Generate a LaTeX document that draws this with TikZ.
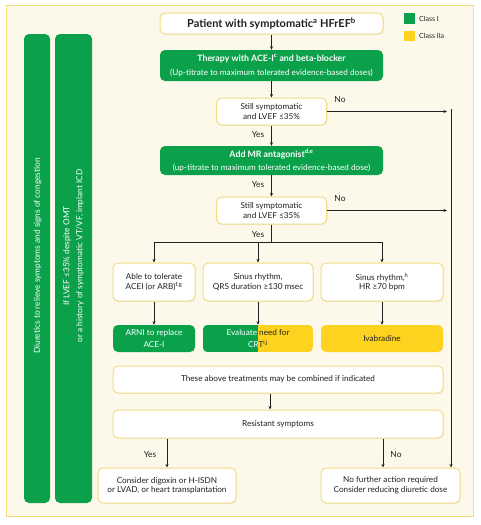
\documentclass[tikz,border=0pt]{standalone}
\usepackage{fontspec}
\setmainfont{Lato}
\usetikzlibrary{arrows.meta,shadows,calc}
\definecolor{cgreen}{HTML}{0BA14B}
\definecolor{cyellow}{HTML}{FDD31F}
\definecolor{cream}{HTML}{FCF8EA}
\definecolor{pborder}{HTML}{F2DF7C}
\definecolor{bborder}{HTML}{F2DC86}
\definecolor{ink}{HTML}{231F20}
\begin{document}
\begin{tikzpicture}[x=1pt,y=-1pt,
  txt/.style={font=\fontsize{8.2}{9.6}\selectfont},
  gtxt/.style={font=\fontsize{8.2}{11.5}\selectfont},
  box/.style={draw=bborder, line width=1pt, fill=white, rounded corners=5pt, align=center,
    inner sep=1pt, txt, text=ink,
    drop shadow={opacity=0.12,shadow xshift=0.8pt,shadow yshift=-0.8pt}},
  gbox/.style={fill=cgreen, rounded corners=5pt, align=center, inner sep=1pt, gtxt, text=white},
  ybox/.style={fill=cyellow, rounded corners=5pt, align=center, inner sep=1pt, txt, text=ink},
  bar/.style={fill=cgreen, rounded corners=5pt},
  bartxt/.style={rotate=90, text=white, align=center, font=\fontsize{8.3}{13}\selectfont, inner sep=0pt},
  arr/.style={-{Stealth[length=3.5pt,width=3pt]}, line width=0.6pt, draw=ink},
  ln/.style={line width=0.6pt, draw=ink},
  lbl/.style={font=\fontsize{8.4}{9}\selectfont, text=ink, inner sep=0pt},
  leg/.style={font=\fontsize{7}{8}\selectfont, text=ink, inner sep=0pt, anchor=west},
]
\useasboundingbox (0,0) rectangle (480,525);
\fill[white] (0,0) rectangle (480,525);
\draw[pborder, line width=0.8pt, fill=cream] (6,5) rectangle (473,516);

% side bars
\fill[bar] (24,34) rectangle (50,503);
\fill[bar] (55,34) rectangle (92,503);
\node[bartxt] (bar1txt) at (37.5,256) {Diuretics to relieve symptoms and signs of congestion};
\node[bartxt] (bar2txt) at (73.5,256) {If LVEF ≤35\% despite OMT\\or a history of symptomatic VT/VF, implant ICD};

% legend
\fill[cgreen] (404,13) rectangle (415,24);
\fill[cyellow] (404,31) rectangle (415,41);
\node[leg] (legI) at (419,18.5) {Class I};
\node[leg] (legIIa) at (419,36) {Class IIa};

% main flow
\node[box, minimum width=223pt, minimum height=21pt, font=\bfseries\fontsize{11}{12}\selectfont] (top) at (271.5,23.5)
  {Patient with symptomatic\textsuperscript{a} HFrEF\textsuperscript{b}};
\node[gbox, minimum width=223pt, minimum height=31pt] (therapy) at (271.5,65.5)
  {{\bfseries\fontsize{8.8}{10}\selectfont Therapy with ACE-I\textsuperscript{c} and beta-blocker}\\[2pt](Up-titrate to maximum tolerated evidence-based doses)};
\node[box, minimum width=110pt, minimum height=27pt] (dec1) at (271.5,111.5)
  {Still symptomatic\\and LVEF ≤35\%};
\node[gbox, minimum width=223pt, minimum height=29pt] (mr) at (271.5,160.5)
  {{\bfseries\fontsize{8.8}{10}\selectfont Add MR antagonist\textsuperscript{d,e}}\\[2pt](up-titrate to maximum tolerated evidence-based dose)};
\node[box, minimum width=110pt, minimum height=27pt] (dec2) at (271.5,210.5)
  {Still symptomatic\\and LVEF ≤35\%};

\node[box, minimum width=82pt, minimum height=38pt] (able) at (154,282)
  {Able to tolerate\\ACEI (or ARB)\textsuperscript{f,g}};
\node[box, minimum width=110pt, minimum height=38pt] (sinus1) at (258,282)
  {Sinus rhythm,\\QRS duration ≥130 msec};
\node[box, minimum width=122pt, minimum height=38pt] (sinus2) at (382,282)
  {Sinus rhythm,\textsuperscript{h}\\HR ≥70 bpm};

\node[gbox, minimum width=82pt, minimum height=27pt] (arni) at (154,338.5)
  {ARNI to replace\\ACE-I};
\node[inner sep=0pt, minimum width=110pt, minimum height=27pt] (eval) at (258,338.5) {};
\begin{scope}
  \clip[rounded corners=5pt] (eval.south west) rectangle (eval.north east);
  \fill[cgreen] (eval.south west) rectangle (eval.north);
  \fill[cyellow] (eval.south) rectangle (eval.north east);
\end{scope}
\begin{scope}
  \clip (eval.south west) rectangle (eval.north);
  \node[align=center, inner sep=0pt, gtxt, text=white] (evaltxtL) at (eval.center) {Evaluate need for\\CRT\textsuperscript{i,j}};
\end{scope}
\begin{scope}
  \clip (eval.south) rectangle (eval.north east);
  \node[align=center, inner sep=0pt, gtxt, text=ink] (evaltxtR) at (eval.center) {Evaluate need for\\CRT\textsuperscript{i,j}};
\end{scope}
\node[ybox, minimum width=122pt, minimum height=27pt] (ivab) at (382,338.5) {Ivabradine};

\node[box, minimum width=330pt, minimum height=27pt] (comb) at (278,379.5)
  {These above treatments may be combined if indicated};
\node[box, minimum width=330pt, minimum height=28pt] (resist) at (278,424)
  {Resistant symptoms};
\node[box, minimum width=138pt, minimum height=35pt] (lfinal) at (167,485.5)
  {Consider digoxin or H-ISDN\\or LVAD, or heart transplantation};
\node[box, minimum width=139pt, minimum height=35pt] (rfinal) at (390.5,485.5)
  {No further action required\\Consider reducing diuretic dose};

% connectors
\draw[arr] (top) -- (therapy);
\draw[arr] (therapy) -- (dec1);
\draw[arr] (dec1) -- (mr);
\draw[arr] (mr) -- (dec2);

\coordinate (bm) at (271.5,242);
\coordinate (bl) at (154,242);
\coordinate (bc) at (258,242);
\coordinate (br) at (382,242);
\draw[ln] (dec2.south) -- (bm);
\draw[ln] (bl) -- (br);
\draw[arr] (bl) -- (able);
\draw[arr] (bc) -- (sinus1);
\draw[arr] (br) -- (sinus2);

\draw[arr] (able) -- (arni);
\draw[arr] (sinus1) -- (eval);
\draw[arr] (sinus2) -- (ivab);

\coordinate (mx) at (270,0);
\draw[arr] (comb.south -| mx) -- (resist.north -| mx);

\coordinate (rx) at (447,0);
\coordinate (rtop) at (451,109);
\draw[arr] (dec1.east) -- (dec1.east -| rx);
\draw[arr] (dec2.east) -- (dec2.east -| rx);
\draw[arr] (rtop) -- (rtop |- rfinal.north);

\draw[arr] (resist.south -| lfinal) -- (lfinal);
\coordinate (nox) at (383,0);
\draw[arr] (resist.south -| nox) -- (rfinal.north -| nox);

% labels
\node[lbl] (no1) at (340,100) {No};
\node[lbl] (no2) at (340,199) {No};
\node[lbl] (yes1) at (258,135) {Yes};
\node[lbl] (yes2) at (258,185) {Yes};
\node[lbl] (yes3) at (258,235) {Yes};
\node[lbl] (yes4) at (150,455) {Yes};
\node[lbl] (no3) at (396,455) {No};
\end{tikzpicture}
\end{document}
